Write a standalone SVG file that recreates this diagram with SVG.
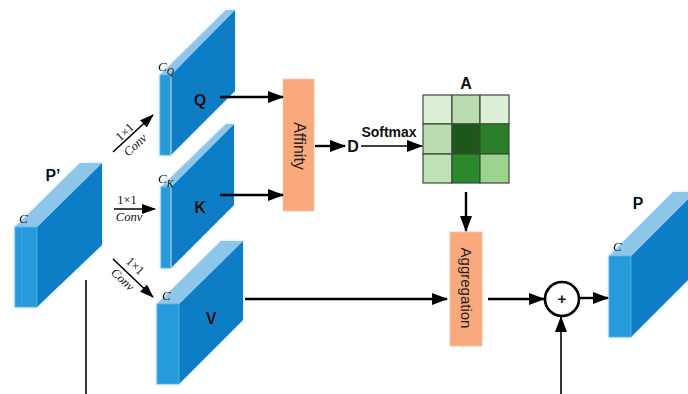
<svg xmlns="http://www.w3.org/2000/svg" width="688" height="394" viewBox="0 0 688 394">
  <style>
    .front { fill: #279BD9; stroke: #5DB3E3; stroke-width: 0.8; }
    .top { fill: #8EC6EB; }
    .side { fill: #0B7DC6; }
    .edge { fill: none; stroke: #E8D9C0; stroke-width: 0.8; }
    .lbl { font-family: "Liberation Sans", Arial, sans-serif; font-weight: bold; fill: #111; text-anchor: middle; }
    .ch { font-family: "Liberation Serif", "Times New Roman", serif; font-style: italic; fill: #111; }
    .conv { font-family: "Liberation Serif", "Times New Roman", serif; font-size: 12.5px; fill: #111; text-anchor: middle; }
    .box { fill: #F9A97C; stroke: #F4C3A4; stroke-width: 0.8; }
    .boxtxt { font-family: "Liberation Sans", Arial, sans-serif; fill: #222; text-anchor: middle; dominant-baseline: central; }
    .line { fill: none; stroke: #000; stroke-width: 2.4; }
    .thin { fill: none; stroke: #000; stroke-width: 1.6; }
    .cell { stroke: #3A4A3A; stroke-width: 1.2; }
  </style>
  <defs>
    <marker id="arr" viewBox="0 0 16 12" refX="15" refY="6" markerWidth="16" markerHeight="12" markerUnits="userSpaceOnUse" orient="auto">
      <path d="M0,0 L16,6 L0,12 Z" fill="#000"/>
    </marker>
    <marker id="arrS" viewBox="0 0 14 10" refX="13" refY="5" markerWidth="14" markerHeight="10" markerUnits="userSpaceOnUse" orient="auto">
      <path d="M0,0 L14,5 L0,10 Z" fill="#000"/>
    </marker>
    <filter id="glow" x="-20%" y="-20%" width="140%" height="140%">
      <feDropShadow dx="0" dy="0" stdDeviation="1.5" flood-color="#4A9AD8" flood-opacity="0.35"/>
    </filter>
  </defs>

  <!-- input feature map P' -->
  <g id="node-Pin" filter="url(#glow)">
    <polygon class="side" points="37,227 102,163 102,245 37,307"/>
    <polygon class="top" points="15,227 37,227 102,163 80,163"/>
    <rect class="front" x="15" y="227" width="22" height="80"/>
    <line x1="22" y1="228" x2="22" y2="306" stroke="#4AA8DE" stroke-width="0.8"/>
    <text class="ch" x="19" y="223" font-size="13">C</text>
    <text class="lbl" x="53" y="181" font-size="16">P’</text>
  </g>

  <!-- query map Q -->
  <g id="node-Q" filter="url(#glow)">
    <polygon class="side" points="171,75 235,10 235,91 171,155"/>
    <polygon class="top" points="160,75 171,75 235,10 226,10"/>
    <rect class="front" x="160" y="75" width="11" height="80"/>
    <line class="edge" x1="171" y1="76" x2="171" y2="155"/>
    <text class="ch" x="158" y="71" font-size="13">C<tspan font-size="10" dy="4">Q</tspan></text>
    <text class="lbl" x="200" y="106" font-size="16">Q</text>
  </g>

  <!-- key map K -->
  <g id="node-K" filter="url(#glow)">
    <polygon class="side" points="171,187 234,124 234,205 171,268"/>
    <polygon class="top" points="161,187 171,187 234,124 226,124"/>
    <rect class="front" x="161" y="187" width="10" height="81"/>
    <line class="edge" x1="171" y1="188" x2="171" y2="268"/>
    <text class="ch" x="158" y="183" font-size="13">C<tspan font-size="10" dy="4">K</tspan></text>
    <text class="lbl" x="200" y="213" font-size="16">K</text>
  </g>

  <!-- value map V -->
  <g id="node-V" filter="url(#glow)">
    <polygon class="side" points="179,304 243,241 243,320 179,384"/>
    <polygon class="top" points="157,304 179,304 243,241 221,241"/>
    <rect class="front" x="157" y="304" width="22" height="80"/>
    <text class="ch" x="162" y="300" font-size="13">C</text>
    <text class="lbl" x="211" y="324" font-size="16">V</text>
  </g>

  <!-- affinity operation -->
  <g id="node-Affinity">
    <rect class="box" x="283" y="79" width="31" height="132"/>
    <text class="boxtxt" transform="translate(299,146) rotate(90)" font-size="16">Affinity</text>
  </g>

  <!-- affinity map D -->
  <g id="node-D">
    <text class="lbl" x="353" y="152" font-size="16">D</text>
  </g>

  <!-- attention map A -->
  <g id="node-A">
    <rect class="cell" x="423" y="95" width="29" height="29" fill="#DCEFD6"/>
    <rect class="cell" x="452" y="95" width="28" height="29" fill="#B9DDB1"/>
    <rect class="cell" x="480" y="95" width="29" height="29" fill="#DCEFD6"/>
    <rect class="cell" x="423" y="124" width="29" height="30" fill="#B9DDB1"/>
    <rect class="cell" x="452" y="124" width="28" height="30" fill="#1E561C"/>
    <rect class="cell" x="480" y="124" width="29" height="30" fill="#2C7F2A"/>
    <rect class="cell" x="423" y="154" width="29" height="29" fill="#BFE1B7"/>
    <rect class="cell" x="452" y="154" width="28" height="29" fill="#2B882B"/>
    <rect class="cell" x="480" y="154" width="29" height="29" fill="#9BD38F"/>
    <text class="lbl" x="466" y="89" font-size="16">A</text>
  </g>

  <!-- aggregation operation -->
  <g id="node-Aggregation">
    <rect class="box" x="450" y="232" width="32" height="114"/>
    <text class="boxtxt" transform="translate(466,288) rotate(90)" font-size="15">Aggregation</text>
  </g>

  <!-- element-wise sum -->
  <g id="node-Sum">
    <circle cx="562" cy="299" r="17" fill="#fff" stroke="#000" stroke-width="2.6"/>
    <text class="lbl" x="562" y="304" font-size="15">+</text>
  </g>

  <!-- output feature map P -->
  <g id="node-Pout" filter="url(#glow)">
    <polygon class="side" points="631,256 695,192 695,273 631,337"/>
    <polygon class="top" points="609,256 631,256 695,192 673,192"/>
    <rect class="front" x="609" y="256" width="22" height="81"/>
    <text class="ch" x="613" y="251" font-size="13">C</text>
    <text class="lbl" x="638" y="209" font-size="16">P</text>
  </g>

  <!-- connectors -->
  <g id="connectors">
    <line class="thin" x1="113" y1="152" x2="153" y2="115" marker-end="url(#arrS)"/>
    <line class="thin" x1="114" y1="209" x2="155" y2="209" marker-end="url(#arrS)"/>
    <line class="thin" x1="113" y1="259" x2="153" y2="297" marker-end="url(#arrS)"/>
    <line class="line" x1="220" y1="97" x2="283" y2="97" marker-end="url(#arr)"/>
    <line class="line" x1="220" y1="195" x2="283" y2="195" marker-end="url(#arr)"/>
    <line class="line" x1="315" y1="146" x2="345" y2="146" marker-end="url(#arr)"/>
    <line class="thin" x1="361" y1="146" x2="422" y2="146" marker-end="url(#arr)"/>
    <line class="line" x1="466" y1="192" x2="466" y2="231" marker-end="url(#arr)"/>
    <line class="line" x1="245" y1="299" x2="447" y2="299" marker-end="url(#arr)"/>
    <line class="line" x1="488" y1="299" x2="544" y2="299" marker-end="url(#arr)"/>
    <line class="line" x1="579" y1="298" x2="608" y2="298" marker-end="url(#arr)"/>
    <line class="thin" x1="561" y1="394" x2="561" y2="317" marker-end="url(#arr)"/>
    <line class="thin" x1="86" y1="280" x2="86" y2="394"/>

    <!-- connector labels -->
    <text class="conv" transform="translate(127.5,135) rotate(-43)">1×1</text>
    <text class="conv" font-style="italic" transform="translate(138,148) rotate(-43)">Conv</text>
    <text class="conv" x="127" y="204">1×1</text>
    <text class="conv" font-style="italic" x="129" y="221">Conv</text>
    <text class="conv" transform="translate(132.5,269) rotate(43)">1×1</text>
    <text class="conv" font-style="italic" transform="translate(120,282.5) rotate(43)">Conv</text>
    <text class="lbl" x="389" y="137" font-size="14">Softmax</text>
  </g>
</svg>
